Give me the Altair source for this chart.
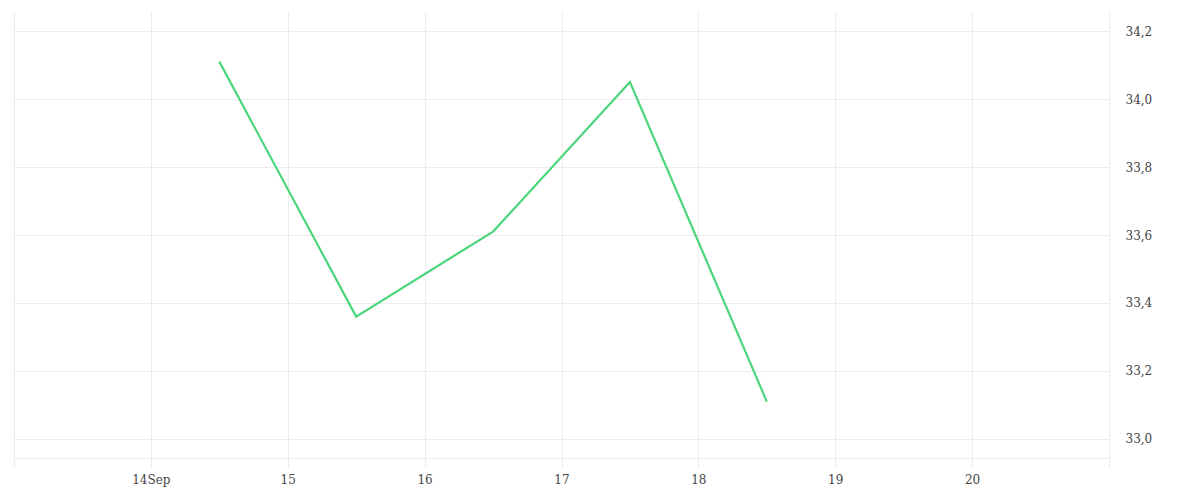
import altair as alt
import pandas as pd

dates = ["2023-09-14T12:00:00", "2023-09-15T12:00:00", "2023-09-16T12:00:00",
         "2023-09-17T12:00:00", "2023-09-18T12:00:00"]
values = [34.11, 33.36, 33.61, 34.05, 33.11]
x_ticks = ["2023-09-13", "2023-09-14", "2023-09-15", "2023-09-16", "2023-09-17",
           "2023-09-18", "2023-09-19", "2023-09-20", "2023-09-21"]
y_ticks = [33.0, 33.2, 33.4, 33.6, 33.8, 34.0, 34.2]

df = pd.DataFrame({"date": pd.to_datetime(dates), "value": values})

tick_vals = [alt.DateTime(year=2023, month=9, date=int(d[-2:])) for d in x_ticks]

chart = alt.Chart(df).mark_line(color="#4cd67c", strokeWidth=2.2).encode(
    x=alt.X("date:T",
            scale=alt.Scale(domain=[alt.DateTime(year=2023, month=9, date=13),
                                    alt.DateTime(year=2023, month=9, date=21)]),
            axis=alt.Axis(title=None, values=tick_vals, grid=True, gridColor="#ececec",
                          domainColor="#ececec", tickColor="#ececec", tickSize=10,
                          labelExpr="date(datum.value) == 13 || date(datum.value) == 21 ? '' : (date(datum.value) == 14 ? timeFormat(datum.value, '%d%b') : timeFormat(datum.value, '%d'))",
                          labelFont="DejaVu Serif", labelFontSize=12, labelColor="#444",
                          labelPadding=6)),
    y=alt.Y("value:Q",
            scale=alt.Scale(domain=[32.944, 34.256], nice=False, zero=False),
            axis=alt.Axis(title=None, orient="right", values=y_ticks, grid=True,
                          gridColor="#ececec", domain=False, ticks=False,
                          labelExpr="replace(format(datum.value, '.1f'), '.', ',')",
                          labelFont="DejaVu Serif", labelFontSize=12, labelColor="#444",
                          labelPadding=16)),
).properties(
    width=1095, height=446,
    padding={"left": 5, "top": 4, "right": 5, "bottom": 5},
).configure_view(stroke=None)

chart.save("out.html", embed_options={"renderer": "svg", "actions": False})
